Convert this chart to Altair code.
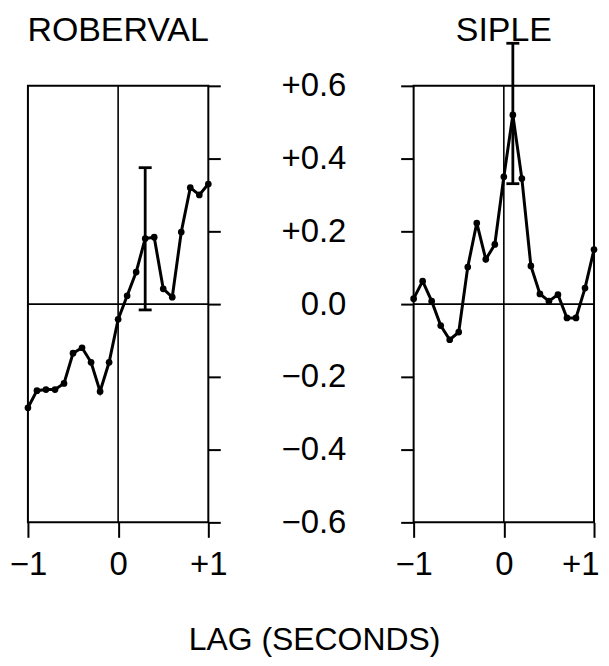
import altair as alt
import pandas as pd

# ---- data ----
lags = [-1.0, -0.9, -0.8, -0.7, -0.6, -0.5, -0.4, -0.3, -0.2, -0.1, 0.0,
        0.1, 0.2, 0.3, 0.4, 0.5, 0.6, 0.7, 0.8, 0.9, 1.0]
roberval = [-0.285, -0.238, -0.235, -0.235, -0.218, -0.135, -0.12, -0.16, -0.24, -0.16, -0.042,
            0.023, 0.088, 0.18, 0.184, 0.042, 0.019, 0.198, 0.32, 0.30, 0.33]
siple = [0.015, 0.063, 0.008, -0.059, -0.098, -0.077, 0.102, 0.223, 0.123, 0.164, 0.35,
         0.52, 0.345, 0.105, 0.028, 0.008, 0.026, -0.038, -0.038, 0.044, 0.15]
panel_names = ["ROBERVAL", "SIPLE"]
err_lag = [0.3, 0.1]
err_low = [-0.016, 0.331]
err_high = [0.375, 0.717]
y_ticks = [-0.6, -0.4, -0.2, 0.0, 0.2, 0.4, 0.6]
x_ticks = [-1, 0, 1]
zero = [0]
x_title = "LAG (SECONDS)"

FONT = "Liberation Sans"
W = 181
H = 438

x_label_expr = "datum.value < -0.5 ? '\u22121' : (datum.value > 0.5 ? '+1' : '0')"
y_label_expr = ("datum.value > 0.001 ? '+' + format(datum.value, '.1f') : "
                "(datum.value < -0.001 ? '\u2212' + format(-datum.value, '.1f') : '0.0')")


def make_xaxis(last_flush):
    kw = dict(values=x_ticks, labelExpr=x_label_expr, tickSize=15, tickWidth=2,
              tickColor="black", labelFontSize=33, labelFont=FONT, labelColor="black",
              labelPadding=11, labelFlush=False, domain=False, grid=False, title=None)
    if last_flush:
        kw["labelAlign"] = {"condition": {"test": "datum.value > 0.5", "value": "right"}, "value": "center"}
        kw["labelOffset"] = {"condition": {"test": "datum.value > 0.5", "value": 5}, "value": 0}
    return alt.Axis(**kw)


def panel(name, values, elag, elo, ehi, yaxis, xaxis):
    df = pd.DataFrame({"lag": lags, "r": values})
    edf = pd.DataFrame({"lag": [elag], "lo": [elo], "hi": [ehi]})
    zdf = pd.DataFrame({"z": zero})
    tdf = pd.DataFrame({"t": [name]})
    xs = alt.Scale(domain=[-1, 1], nice=False, zero=False)
    ys = alt.Scale(domain=[-0.6, 0.6], nice=False, zero=False)

    zh = alt.Chart(zdf).mark_rule(color="black", strokeWidth=1.6).encode(
        y=alt.Y("z:Q", scale=ys, axis=yaxis))
    zv = alt.Chart(zdf).mark_rule(color="black", strokeWidth=1.6).encode(
        x=alt.X("z:Q", scale=xs, axis=xaxis))
    base = alt.Chart(df)
    line = base.mark_line(color="black", strokeWidth=3).encode(
        x=alt.X("lag:Q", scale=xs), y=alt.Y("r:Q", scale=ys))
    pts = base.mark_circle(color="black", size=45, opacity=1).encode(
        x=alt.X("lag:Q", scale=xs), y=alt.Y("r:Q", scale=ys))
    ebase = alt.Chart(edf)
    erule = ebase.mark_rule(color="black", strokeWidth=2.8).encode(
        x=alt.X("lag:Q", scale=xs), y=alt.Y("lo:Q", scale=ys), y2="hi:Q")
    cap_lo = ebase.mark_tick(color="black", orient="horizontal", size=13, thickness=2.8, opacity=1).encode(
        x=alt.X("lag:Q", scale=xs), y=alt.Y("lo:Q", scale=ys))
    cap_hi = ebase.mark_tick(color="black", orient="horizontal", size=13, thickness=2.8, opacity=1).encode(
        x=alt.X("lag:Q", scale=xs), y=alt.Y("hi:Q", scale=ys))
    title = alt.Chart(tdf).mark_text(font=FONT, fontSize=34, color="black", align="center",
                                     baseline="alphabetic").encode(
        text="t:N", x=alt.value(W / 2), y=alt.value(-45))

    return alt.layer(zh, zv, line, pts, erule, cap_lo, cap_hi, title).properties(width=W, height=H)


left_axis = alt.Axis(orient="right", values=y_ticks, labelExpr=y_label_expr, tickSize=12, tickWidth=2,
                     tickColor="black", labelAlign="right", labelBaseline="middle", labelPadding=126,
                     labelFontSize=33, labelFont=FONT, labelColor="black", labelFlush=False,
                     labelOverlap=False, domain=False, grid=False, title=None)
right_axis = alt.Axis(orient="left", values=y_ticks, labels=False, tickSize=13, tickWidth=2,
                      tickColor="black", domain=False, grid=False, title=None)

left = panel(panel_names[0], roberval, err_lag[0], err_low[0], err_high[0], left_axis, make_xaxis(False))
right = panel(panel_names[1], siple, err_lag[1], err_low[1], err_high[1], right_axis, make_xaxis(True))

chart = alt.hconcat(left, right, spacing=206, bounds="flush").properties(
    padding={"top": 4, "left": 0, "right": 0, "bottom": 0},
    title=alt.TitleParams(x_title, orient="bottom", fontSize=32, font=FONT, fontWeight="normal",
                          anchor="middle", baseline="alphabetic", offset=68, dx=10, color="black"),
).configure_view(stroke="black", strokeWidth=2)

chart.save("out.html", embed_options={"renderer": "svg", "actions": False})
